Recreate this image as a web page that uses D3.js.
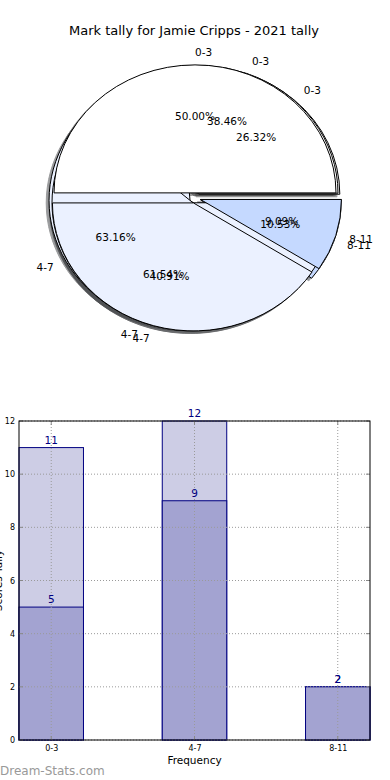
<!DOCTYPE html>
<html>
<head>
<meta charset="utf-8">
<script src="https://cdn.jsdelivr.net/npm/d3@7"></script>
<style>
  body { margin: 0; background: #fff; }
  svg { display: block; font-family: "DejaVu Sans", sans-serif; }
</style>
</head>
<body>
<svg id="chart" width="390" height="780"></svg>
<script>
// Data
const TITLE = "Mark tally for Jamie Cripps - 2021 tally";
const categories = ["0-3", "4-7", "8-11"];
// three overlaid pies, drawn bottom to top
const pieC = [5, 12, 2];
const pieB = [5, 8];
const pieA = [11, 9, 2];
// bar chart
const totalTally = [11, 12, 2];
const scoreTally = [5, 9, 2];
const yTicks = [0, 2, 4, 6, 8, 10, 12];

const SLICE_COLORS = ["#ffffff", "#ebf1ff", "#c5d9ff"];
const EXPLODE = 0.04;

const svg = d3.select("#chart");

// Title
svg.append("text")
  .attr("x", 194).attr("y", 35)
  .attr("text-anchor", "middle")
  .style("font-size", "13px")
  .style("fill", "#000")
  .text(TITLE);

// ---------- Pies ----------
const cx = 195, cy = 198, rx = 141, ry = 128;

// d3 angles: 0 = 12 o'clock, clockwise. Start at 3 o'clock and go counter-clockwise like matplotlib
const pieLayout = d3.pie().sort(null).startAngle(Math.PI / 2).endAngle(Math.PI / 2 - 2 * Math.PI);

function wedgePath(a0, a1, ox, oy) {
  const x0 = ox + rx * Math.sin(a0), y0 = oy - ry * Math.cos(a0);
  const x1 = ox + rx * Math.sin(a1), y1 = oy - ry * Math.cos(a1);
  const large = Math.abs(a1 - a0) > Math.PI ? 1 : 0;
  return `M${ox},${oy}L${x0},${y0}A${rx},${ry} 0 ${large} 0 ${x1},${y1}Z`;
}

function buildSlices(values) {
  const total = d3.sum(values);
  return pieLayout(values).map((d, i) => {
    const mid = (d.startAngle + d.endAngle) / 2;
    return {
      i: i,
      a0: d.startAngle,
      a1: d.endAngle,
      mid: mid,
      pct: d.value / total * 100,
      ox: cx + EXPLODE * rx * Math.sin(mid),
      oy: cy - EXPLODE * ry * Math.cos(mid)
    };
  });
}

const allPies = [pieC, pieB, pieA].map(buildSlices);

// shadows first (all below wedges)
const shadowG = svg.append("g").attr("transform", `translate(${-0.02 * rx},${0.02 * ry})`);
allPies.forEach(slices => {
  shadowG.selectAll(null)
    .data(slices)
    .enter()
    .append("path")
    .attr("d", d => wedgePath(d.a0, d.a1, d.ox, d.oy))
    .attr("fill", d => d3.color(SLICE_COLORS[d.i]).darker(4))
    .attr("stroke", d => d3.color(SLICE_COLORS[d.i]).darker(4))
    .attr("stroke-width", 1)
    .attr("opacity", 0.5);
});

// wedges
allPies.forEach(slices => {
  svg.append("g").selectAll("path")
    .data(slices)
    .enter()
    .append("path")
    .attr("d", d => wedgePath(d.a0, d.a1, d.ox, d.oy))
    .attr("fill", d => SLICE_COLORS[d.i])
    .attr("stroke", "#000")
    .attr("stroke-width", 1)
    .attr("stroke-linejoin", "round");
});

// labels + percentages on top
allPies.forEach(slices => {
  const g = svg.append("g").style("font-size", "10.5px").style("fill", "#000");
  g.selectAll(".lbl")
    .data(slices)
    .enter()
    .append("text")
    .attr("x", d => d.ox + 1.1 * rx * Math.sin(d.mid))
    .attr("y", d => d.oy - 1.1 * ry * Math.cos(d.mid))
    .attr("dy", "0.35em")
    .attr("text-anchor", d => Math.sin(d.mid) >= 0 ? "start" : "end")
    .text(d => categories[d.i]);
  g.selectAll(".pct")
    .data(slices)
    .enter()
    .append("text")
    .attr("x", d => d.ox + 0.6 * rx * Math.sin(d.mid))
    .attr("y", d => d.oy - 0.6 * ry * Math.cos(d.mid))
    .attr("dy", "0.35em")
    .attr("text-anchor", "middle")
    .text(d => d.pct.toFixed(2) + "%");
});

// ---------- Bar chart ----------
const bx0 = 19, bx1 = 370, by0 = 421, by1 = 740;
const x = d3.scaleLinear().domain([-0.225, categories.length - 1 + 0.225]).range([bx0, bx1]);
const y = d3.scaleLinear().domain([0, 12]).range([by1, by0]);
const barW = 0.45;

const barG = svg.append("g");

// light bars (totals), then dark bars
barG.selectAll(".tot")
  .data(totalTally)
  .enter()
  .append("rect")
  .attr("x", (d, i) => x(i - barW / 2))
  .attr("y", d => y(d))
  .attr("width", x(barW) - x(0))
  .attr("height", d => y(0) - y(d))
  .attr("fill", "#cdcde5")
  .attr("stroke", "#000080")
  .attr("stroke-width", 1);

barG.selectAll(".score")
  .data(scoreTally)
  .enter()
  .append("rect")
  .attr("x", (d, i) => x(i - barW / 2))
  .attr("y", d => y(d))
  .attr("width", x(barW) - x(0))
  .attr("height", d => y(0) - y(d))
  .attr("fill", "#a3a3d1")
  .attr("stroke", "#000080")
  .attr("stroke-width", 1);

// grid
const gridG = svg.append("g")
  .attr("stroke", "#9a9a9a")
  .attr("stroke-width", 1)
  .attr("stroke-dasharray", "1,2");
gridG.selectAll(".gy")
  .data(yTicks)
  .enter()
  .append("line")
  .attr("x1", bx0).attr("x2", bx1)
  .attr("y1", d => y(d)).attr("y2", d => y(d));
gridG.selectAll(".gx")
  .data(categories)
  .enter()
  .append("line")
  .attr("x1", (d, i) => x(i)).attr("x2", (d, i) => x(i))
  .attr("y1", by0).attr("y2", by1);

// ticks (inward, all four sides)
const tickG = svg.append("g").attr("stroke", "#888").attr("stroke-width", 1);
yTicks.forEach(t => {
  tickG.append("line").attr("x1", bx0).attr("x2", bx0 + 4).attr("y1", y(t)).attr("y2", y(t));
  tickG.append("line").attr("x1", bx1).attr("x2", bx1 - 4).attr("y1", y(t)).attr("y2", y(t));
});
categories.forEach((c, i) => {
  tickG.append("line").attr("x1", x(i)).attr("x2", x(i)).attr("y1", by1).attr("y2", by1 - 4);
  tickG.append("line").attr("x1", x(i)).attr("x2", x(i)).attr("y1", by0).attr("y2", by0 + 4);
});

// frame
svg.append("rect")
  .attr("x", bx0).attr("y", by0)
  .attr("width", bx1 - bx0).attr("height", by1 - by0)
  .attr("fill", "none")
  .attr("stroke", "#000")
  .attr("stroke-width", 1);

// tick labels
const yAxis = d3.axisLeft(y).tickValues(yTicks).tickSize(0).tickPadding(4);
svg.append("g")
  .attr("transform", `translate(${bx0},0)`)
  .call(yAxis)
  .call(g => g.select(".domain").remove())
  .selectAll("text")
  .style("font-family", "DejaVu Sans, sans-serif")
  .style("font-size", "8px")
  .attr("fill", "#000");

const xAxis = d3.axisBottom(x).tickValues(d3.range(categories.length)).tickFormat(i => categories[i]).tickSize(0).tickPadding(5);
svg.append("g")
  .attr("transform", `translate(0,${by1})`)
  .call(xAxis)
  .call(g => g.select(".domain").remove())
  .selectAll("text")
  .style("font-family", "DejaVu Sans, sans-serif")
  .style("font-size", "8px")
  .attr("fill", "#000");

// value labels
const valG = svg.append("g").style("font-size", "10.5px").attr("fill", "#000080").attr("text-anchor", "middle");
valG.selectAll(".vt")
  .data(totalTally)
  .enter()
  .append("text")
  .attr("x", (d, i) => x(i))
  .attr("y", d => y(d) - 4)
  .text(d => d);
valG.selectAll(".vs")
  .data(scoreTally)
  .enter()
  .append("text")
  .attr("x", (d, i) => x(i))
  .attr("y", d => y(d) - 4)
  .text(d => d);

// axis titles
svg.append("text")
  .attr("x", x(1)).attr("y", 764)
  .attr("text-anchor", "middle")
  .style("font-size", "10.5px")
  .text("Frequency");

svg.append("text")
  .attr("transform", `translate(2,${(by0 + by1) / 2}) rotate(-90)`)
  .attr("text-anchor", "middle")
  .style("font-size", "10.5px")
  .text("Scores Tally");

// watermark
svg.append("text")
  .attr("x", 0).attr("y", 775)
  .style("font-size", "12px")
  .style("fill", "#999999")
  .text("Dream-Stats.com");
</script>
</body>
</html>
